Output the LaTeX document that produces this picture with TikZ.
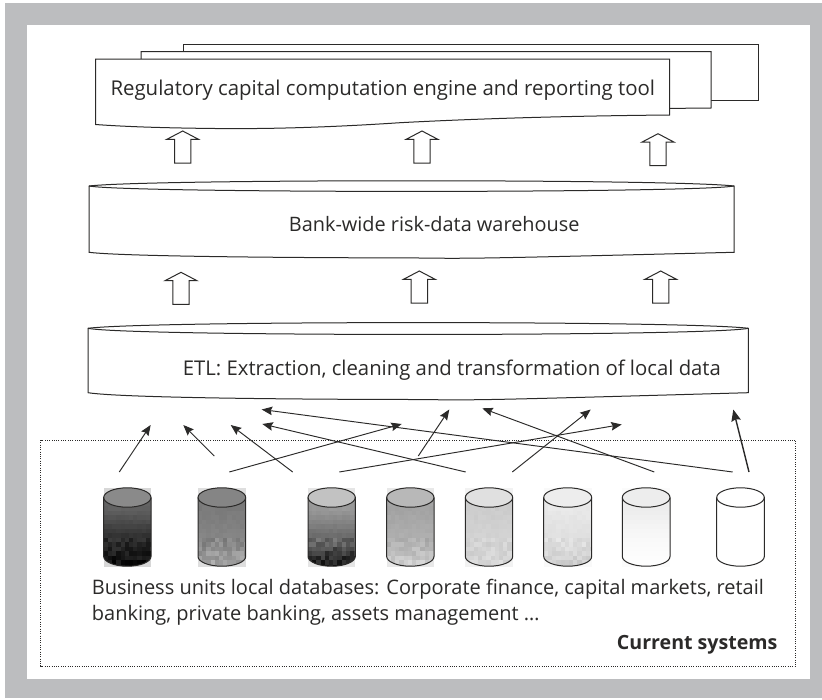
\documentclass[tikz,border=0pt]{standalone}
\usepackage{fontspec}
\setmainfont{Open Sans}
\usetikzlibrary{arrows.meta}
\definecolor{frameg}{HTML}{BCBDBF}
\definecolor{ink}{HTML}{2B2A29}
\tikzset{
  x=1pt,y=-1pt,
  outl/.style={draw=ink,line width=1pt,fill=white,line join=miter},
  lab/.style={text=ink,inner sep=0pt,anchor=base west},
  flow/.style={draw=ink,line width=0.95pt,-{Stealth[length=10.5pt,width=8.5pt,inset=1.5pt]}},
  flowthick/.style={draw=ink,line width=1.4pt,-{Stealth[length=11.5pt,width=9.5pt,inset=1.5pt]}},
  dotbox/.style={draw=ink,line width=0.75pt,dash pattern=on 0.8pt off 1.5pt}
}
\newcommand{\fsz}[1]{\fontsize{#1}{#1}\selectfont}
% hollow up arrow: tip x, tip y, bottom y
\newcommand{\uparr}[3]{\draw[outl] (#1,#2) -- (#1+16,#2+8.4) -- (#1+8.2,#2+8.4) -- (#1+8.2,#3) -- (#1-8.2,#3) -- (#1-8.2,#2+8.4) -- (#1-16,#2+8.4) -- cycle;}
% flat cylinder: left,right,top,sidetop,ellbottom,sidebottom,lowest
\newcommand{\flatcyl}[7]{%
  \draw[outl] (#1,#4) .. controls (#1+60,#3-1) and (#2-60,#3-1) .. (#2,#4)
     -- (#2,#6) .. controls ({(#1+#2)/2+60},#7+1) and ({(#1+#2)/2+60},#7+1) .. ({(#1+#2)/2},#7+0.2)
     .. controls ({(#1+#2)/2-60},#7+0.2) and (#1+40,#7-0.5) .. (#1,#6) -- cycle;
  \draw[outl,fill=none] (#1,#4) .. controls (#1+40,#5+0.5) and (#2-40,#5+0.5) .. (#2,#4);}
% database: left,right,top face grey,grey at 507,grey at 540,grey at 566,noise,seed
\newcommand{\dbcyl}[8]{%
  \pgfmathsetseed{#8}%
  \pgfmathsetmacro{\pale}{0.25*#4}%
  \fill[black!\pale] (#1,488) rectangle (#2,567);
  \begin{scope}
    \clip (#1,497.5) arc [start angle=180,end angle=360,x radius={(#2-#1)/2},y radius=9.7]
       -- (#2,556.5) arc [start angle=0,end angle=180,x radius={(#2-#1)/2},y radius=9.7] -- cycle;
    \fill[white] (#1,488) rectangle (#2,567);
    \foreach \rw in {0,...,17} {
      \pgfmathsetmacro{\yy}{488+4.5*\rw}
      \pgfmathsetmacro{\base}{\yy<540 ? #4+(#5-#4)*max(\yy-507,0)/33 : #5+(#6-#5)*(\yy-540)/26}
      \foreach \cl in {0,...,11} {
        \pgfmathsetmacro{\xx}{#1+4.2*\cl}
        \pgfmathsetmacro{\grey}{max(min(\base+(\yy>=535 ? #7 : min(#7,1))*(2*rnd-1),100),0)}
        \fill[black!\grey] (\xx,\yy) rectangle (\xx+4.5,\yy+4.8);
      }
    }
  \end{scope}
  \draw[ink,line width=1pt,fill=black!#3] ({(#1+#2)/2},497.5) ellipse [x radius={(#2-#1)/2},y radius=9.7];
  \draw[ink,line width=1pt] (#1,497.5) -- (#1,556.5) arc [start angle=180,end angle=0,x radius={(#2-#1)/2},y radius=9.7] -- (#2,497.5);}
\begin{document}
\begin{tikzpicture}
\useasboundingbox (0,0) rectangle (822,699);
\fill[white] (0,0) rectangle (822,699);
\fill[frameg] (5,3) rectangle (822,698);
\fill[white] (27,25) rectangle (809.5,679);
% stacked documents
\draw[outl] (183.5,60) -- (183.5,44.5) -- (758,44.5) -- (758,100.7) -- (660,100.7);
\draw[outl] (141,60) -- (141,51.5) -- (711,51.5) -- (711,108) -- (660,108.5);
\draw[outl] (95.5,59) -- (669.5,59) -- (669.5,115) .. controls (560,116) and (470,119) .. (400,122.7)
  .. controls (320,128) and (260,129) .. (215,128.5) .. controls (170,128) and (130,127) .. (95.5,124.5) -- cycle;
\node[lab,font=\fsz{20.4}] (reg) at (110.3,95.7) {Regulatory capital computation engine and reporting tool};
% up arrows
\uparr{182.7}{131}{163}
\uparr{422}{131}{163}
\uparr{658}{133.7}{165.5}
\uparr{181}{272.3}{304.3}
\uparr{419.3}{271}{303}
\uparr{660.7}{271}{303}
% warehouse and ETL
\flatcyl{89}{734}{180}{186}{192.7}{252.3}{257.7}
\node[lab,font=\fsz{19.9}] (bank) at (288.7,231) {Bank-wide risk-data warehouse};
\flatcyl{88}{748.3}{321.7}{328.3}{336}{392.7}{399.3}
\node[lab,font=\fsz{20.3}] (etl) at (182.7,375) {ETL: Extraction, cleaning and transformation of local data};
% dotted box
\draw[dotbox] (40.7,440) rectangle (795.7,666);
% databases
\dbcyl{103.7}{151}{46}{62}{85}{97}{7}{11}
\dbcyl{198}{245.7}{48}{52}{47}{32}{7}{12}
\dbcyl{308}{355.3}{24}{40}{62}{95}{9}{13}
\dbcyl{386.7}{434}{28}{36}{31}{16}{5}{14}
\dbcyl{465.3}{512.7}{12}{20}{17}{16}{4}{15}
\dbcyl{543.7}{591.7}{7}{9}{13}{20}{4}{16}
\dbcyl{622.3}{670}{7}{7}{2}{0}{0}{17}
\dbcyl{716.7}{764.3}{0}{0}{0}{0}{0}{18}
% connectors
\coordinate (a1s) at (119.3,472); \coordinate (a1e) at (150.7,425);
\coordinate (a2s) at (214.3,456); \coordinate (a2e) at (183.3,425);
\coordinate (a3s) at (292.7,472); \coordinate (a3e) at (230.7,425);
\coordinate (a4s) at (229.3,472); \coordinate (a4e) at (401.7,424);
\coordinate (a5s) at (339.3,472); \coordinate (a5e) at (621.7,424.5);
\coordinate (a6s) at (732.7,472); \coordinate (a6e) at (261.7,409.5);
\coordinate (a7s) at (465.7,472); \coordinate (a7e) at (262.3,424);
\coordinate (a8s) at (418.3,456); \coordinate (a8e) at (449.3,409.5);
\coordinate (a9s) at (512.3,472); \coordinate (a9e) at (590.7,409.5);
\coordinate (a10s) at (654.3,472); \coordinate (a10e) at (482.3,408.3);
\coordinate (a11s) at (749,472); \coordinate (a11e) at (733.3,409.5);
\foreach \n in {1,...,10} {\draw[flow] (a\n s) -- (a\n e);}
\draw[flowthick] (a11s) -- (a11e);
% labels
\node[lab,font=\fsz{20}] (biz1) at (91.7,594) {Business units local databases: Corporate finance, capital markets, retail};
\node[lab,font=\fsz{20}] (biz2) at (91.7,620) {banking, private banking, assets management …};
\node[lab,font=\fsz{19.6}\bfseries] (cur) at (616.7,649.3) {Current systems};
\end{tikzpicture}
\end{document}
